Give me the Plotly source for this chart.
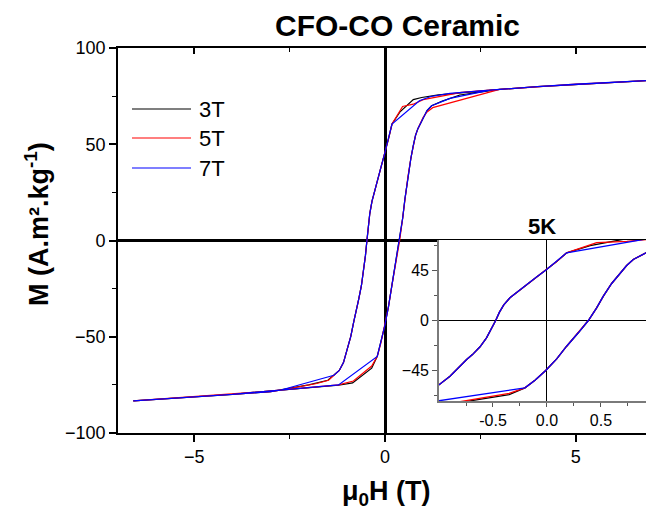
import plotly.graph_objects as go

# ---------------- data (mu0H in T, M in A.m2/kg) ----------------
# shared segments of the hysteresis loops
desc_top_H = [7.0, 6.0, 5.0, 4.0, 3.0]
desc_top_M = [83.2, 82.2, 81.2, 79.9, 78.5]
desc_mid_H = [0.182, 0.09, -0.012, -0.1, -0.188, -0.28, -0.343, -0.40, -0.44, -0.475, -0.515,
              -0.56, -0.62, -0.69, -0.744, -0.821, -0.898, -0.997, -1.09, -1.2, -1.34]
desc_mid_M = [60.5, 52.8, 45.0, 38.6, 32.2, 25.2, 20.3, 14.0, 7.5, 0.0, -8.0,
              -15.5, -23.5, -30.5, -34.9, -42.3, -49.8, -57.2, -63.4, -67.5, -70.0]
desc_low_H = [-3.0, -4.0, -5.0, -6.6]
desc_low_M = [-78.5, -79.9, -81.1, -83.3]
asc_low_H = [-5.0, -4.0, -3.27]
asc_low_M = [-81.1, -79.9, -78.6]
asc_mid_H = [-0.204, -0.111, -0.012, 0.090, 0.182, 0.290, 0.383, 0.460, 0.522, 0.599,
             0.676, 0.738, 0.799, 0.861, 0.917, 1.0]
asc_mid_M = [-60.2, -53.4, -44.7, -34.3, -23.0, -11.0, 0.0, 11.3, 21.8, 33.1,
             42.6, 49.2, 54.6, 58.1, 60.5, 64.0]
asc_top_H = [4.0, 5.0, 6.0, 7.0]
asc_top_M = [79.9, 81.2, 82.2, 83.2]

# 3T knees
k3_dt_H = [2.0, 1.4, 0.96, 0.74, 0.4]
k3_dt_M = [76.9, 75.6, 74.3, 73.2, 67.0]
k3_db_H = [-1.5, -2.0, -2.75]
k3_db_M = [-72.6, -75.0, -77.8]
k3_ab_H = [-1.22, -0.85, -0.35]
k3_ab_M = [-75.2, -74.0, -66.3]
k3_at_H = [1.1, 1.22, 1.5, 1.96, 3.0]
k3_at_M = [67.5, 70.0, 72.4, 75.6, 78.5]

# 5T knees
k5_dt_H = [2.0, 1.0, 0.74, 0.46]
k5_dt_M = [76.9, 73.2, 70.8, 69.6]
k5_db_H = [-1.48, -1.79, -2.3, -2.75]
k5_db_M = [-72.6, -74.3, -76.3, -77.8]
k5_ab_H = [-1.22, -0.83, -0.35]
k5_ab_M = [-75.0, -73.0, -65.2]
k5_at_H = [1.1, 1.25, 3.0]
k5_at_M = [66.8, 69.0, 78.5]

# 7T knees
k7_dt_H = [1.7, 1.2, 0.9]
k7_dt_M = [76.4, 74.8, 72.6]
k7_db_H = [-2.75]
k7_db_M = [-77.8]
k7_ab_H = [-1.22]
k7_ab_M = [-75.0]
k7_at_H = [1.1, 1.22, 1.7, 2.75, 3.0]
k7_at_M = [67.5, 70.0, 73.8, 78.1, 78.5]

series_names = ["3T", "5T", "7T"]
series_colors = ["#000000", "#ff0000", "#0000ff"]
legend_colors = ["#000000", "#ff0000", "#7f7fff"]


def loop(dt, db, ab, at):
    H = desc_top_H + dt[0] + desc_mid_H + db[0] + desc_low_H + asc_low_H + ab[0] + asc_mid_H + at[0] + asc_top_H
    M = desc_top_M + dt[1] + desc_mid_M + db[1] + desc_low_M + asc_low_M + ab[1] + asc_mid_M + at[1] + asc_top_M
    return H, M


loops = [
    loop((k3_dt_H, k3_dt_M), (k3_db_H, k3_db_M), (k3_ab_H, k3_ab_M), (k3_at_H, k3_at_M)),
    loop((k5_dt_H, k5_dt_M), (k5_db_H, k5_db_M), (k5_ab_H, k5_ab_M), (k5_at_H, k5_at_M)),
    loop((k7_dt_H, k7_dt_M), (k7_db_H, k7_db_M), (k7_ab_H, k7_ab_M), (k7_at_H, k7_at_M)),
]

main_xticks = [-5, 0, 5]
main_yticks = [-100, -50, 0, 50, 100]
inset_xticks = [-0.5, 0.0, 0.5]
inset_xtext = ["-0.5", "0.0", "0.5"]
inset_yticks = [-45, 0, 45]

# ---------------- figure ----------------
fig = go.Figure()
for (H, M), name, col in zip(loops, series_names, series_colors):
    fig.add_trace(go.Scatter(x=H, y=M, mode="lines", name=name,
                             line=dict(color=col, width=1.2),
                             xaxis="x", yaxis="y", hoverinfo="skip"))
for (H, M), name, col in zip(loops, series_names, series_colors):
    fig.add_trace(go.Scatter(x=H, y=M, mode="lines", name=name + " inset",
                             line=dict(color=col, width=1.3),
                             xaxis="x2", yaxis="y2", hoverinfo="skip"))
# empty trace to register the top mirror axis
fig.add_trace(go.Scatter(x=[], y=[], xaxis="x3", yaxis="y", showlegend=False))

PL, PR, PT, PB = 118, 646, 48, 433
PW, PH = PR - PL, PB - PT


def px(xp):
    return (xp - PL) / PW


def py(yp):
    return (PB - yp) / PH


FONT = "Arial, Liberation Sans, sans-serif"

fig.update_layout(
    width=646, height=506,
    margin=dict(l=PL, r=646 - PR, t=PT, b=506 - PB),
    paper_bgcolor="white", plot_bgcolor="white",
    showlegend=False,
    font=dict(family=FONT, color="black"),
    xaxis=dict(range=[-7.0, 6.84], tickvals=main_xticks, ticks="outside", ticklen=7,
               tickwidth=1.5, tickcolor="black", showline=True, linecolor="black",
               linewidth=1.6, zeroline=True, zerolinecolor="black", zerolinewidth=2.6,
               showgrid=False, tickfont=dict(size=18),
               minor=dict(tickvals=[-2.5, 2.5], ticks="outside", ticklen=4,
                          tickcolor="black", tickwidth=1.2)),
    xaxis3=dict(range=[-7.0, 6.84], overlaying="x", side="top", anchor="y",
                tickvals=main_xticks, ticks="inside", ticklen=6, tickwidth=1.5,
                tickcolor="black", showticklabels=False, showline=True,
                linecolor="black", linewidth=1.6, zeroline=False, showgrid=False,
                minor=dict(tickvals=[-2.5, 2.5], ticks="inside", ticklen=4,
                           tickcolor="black", tickwidth=1.2)),
    yaxis=dict(range=[-100, 100], tickvals=main_yticks, ticks="outside", ticklen=7,
               tickwidth=1.5, tickcolor="black", showline=True, linecolor="black",
               linewidth=1.6, zeroline=True, zerolinecolor="black", zerolinewidth=2.6,
               showgrid=False, tickfont=dict(size=18),
               minor=dict(tickvals=[-75, -25, 25, 75], ticks="outside", ticklen=4,
                          tickcolor="black", tickwidth=1.2)),
    xaxis2=dict(domain=[px(439), 1.0], anchor="y2", range=[-1.0, 0.917],
                tickvals=inset_xticks, ticktext=inset_xtext, ticks="outside",
                ticklen=4, tickwidth=1.2, tickcolor="#555555", showline=True,
                linecolor="#7a7a7a", linewidth=1.6, zeroline=True,
                zerolinecolor="black", zerolinewidth=1, showgrid=False,
                tickfont=dict(size=16),
                minor=dict(tickvals=[-0.75, -0.25, 0.25, 0.75], ticks="outside",
                           ticklen=3, tickcolor="#555555", tickwidth=1)),
    yaxis2=dict(domain=[py(401), py(240)], anchor="x2", range=[-72, 72],
                tickvals=inset_yticks, ticks="outside", ticklen=5, tickwidth=1.2,
                tickcolor="#555555", showline=True, linecolor="#7a7a7a",
                linewidth=1.6, zeroline=True, zerolinecolor="black",
                zerolinewidth=1, showgrid=False, tickfont=dict(size=16),
                minor=dict(tickvals=[-67.5, -22.5, 22.5, 67.5], ticks="outside",
                           ticklen=3, tickcolor="#555555", tickwidth=1)),
)

annotations = [
    dict(text="<b>CFO-CO Ceramic</b>", x=px(397), y=py(26), font=dict(size=30)),
    dict(text="<b>5K</b>", x=px(542), y=py(226), font=dict(size=22)),
    dict(text="<b>M (A.m².kg<sup>-1</sup>)</b>", x=px(37), y=py(224), textangle=-90,
         font=dict(size=27)),
    dict(text="<b>μ<sub>0</sub>H (T)</b>", x=px(386), y=py(493), font=dict(size=27)),
]
legend_y = [109, 138, 168]
shapes = []
for name, col, yy in zip(series_names, legend_colors, legend_y):
    shapes.append(dict(type="line", xref="paper", yref="paper", x0=px(132), x1=px(191),
                       y0=py(yy), y1=py(yy),
                       line=dict(color=col, width=2 if name == "7T" else 1.2)))
    annotations.append(dict(text=name, x=px(197), y=py(yy), xanchor="left",
                            font=dict(size=22)))

for a in annotations:
    a.setdefault("xanchor", "center")
    a.update(xref="paper", yref="paper", showarrow=False, yanchor="middle")
fig.update_layout(annotations=annotations, shapes=shapes)

fig.write_html("out.html")
